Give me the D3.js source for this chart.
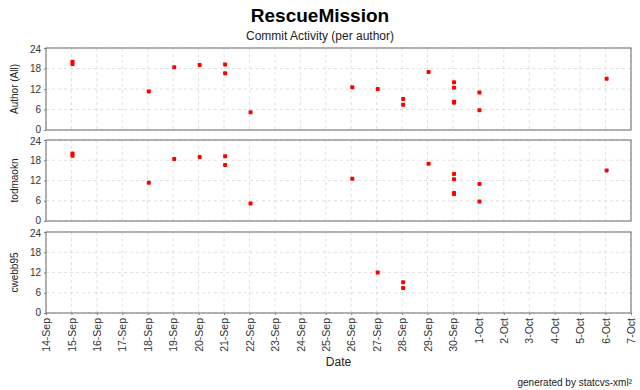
<!DOCTYPE html>
<html>
<head>
<meta charset="utf-8">
<script src="https://cdn.jsdelivr.net/npm/d3@7"></script>
<style>
body { margin: 0; background: #fff; }
svg text { font-family: "Liberation Sans", Arial, sans-serif; }
</style>
</head>
<body>
<div id="chart"></div>
<script>
// commit times per author: day + hour of day
var authors = ["Author (All)", "todmaokn", "cwebb95"];

var todDays = ["09-15", "09-15", "09-18", "09-19", "09-20", "09-21", "09-21", "09-22",
  "09-26", "09-29", "09-30", "09-30", "09-30", "09-30", "10-01", "10-01", "10-06"];
var todHours = [20.0, 19.3, 11.3, 18.35, 19.0, 19.2, 16.6, 5.2,
  12.5, 17.0, 13.95, 12.4, 8.3, 8.0, 11.0, 5.75, 15.0];

var cwebbDays = ["09-27", "09-28", "09-28"];
var cwebbHours = [12.0, 9.1, 7.4];

var allDays = todDays.concat(cwebbDays);
var allHours = todHours.concat(cwebbHours);

var yTicks = [0, 6, 12, 18, 24];

var width = 640, height = 390;
var margin = { left: 46, right: 9 };
var panels = [
  { top: 48, bottom: 130, days: allDays, hours: allHours },
  { top: 140, bottom: 221, days: todDays, hours: todHours },
  { top: 232, bottom: 313, days: cwebbDays, hours: cwebbHours }
];

var parse = d3.timeParse("%Y-%m-%d");
var toDate = function (d) { return d3.timeHour.offset(parse("2005-" + d), 1); };

var svg = d3.select("#chart").append("svg")
  .attr("width", width).attr("height", height);

var x = d3.scaleTime()
  .domain([parse("2005-09-14"), parse("2005-10-07")])
  .range([margin.left, width - margin.right]);

svg.append("text").attr("x", 320).attr("y", 22)
  .attr("text-anchor", "middle").attr("font-size", 19).attr("font-weight", "bold")
  .text("RescueMission");
svg.append("text").attr("x", 320).attr("y", 40)
  .attr("text-anchor", "middle").attr("font-size", 12).attr("fill", "#222")
  .text("Commit Activity (per author)");

var days = d3.timeDay.range(x.domain()[0], d3.timeDay.offset(x.domain()[1], 1));

panels.forEach(function (p, i) {
  var y = d3.scaleLinear().domain([0, 24]).range([p.bottom, p.top]);
  var g = svg.append("g");

  // grid
  g.selectAll(".vg").data(days).enter().append("line")
    .attr("x1", function (d) { return x(d); }).attr("x2", function (d) { return x(d); })
    .attr("y1", p.top).attr("y2", p.bottom)
    .attr("stroke", "#d8d8d8").attr("stroke-width", 0.8).attr("stroke-dasharray", "3,3");
  g.selectAll(".hg").data(yTicks).enter().append("line")
    .attr("x1", margin.left).attr("x2", width - margin.right)
    .attr("y1", function (d) { return y(d); }).attr("y2", function (d) { return y(d); })
    .attr("stroke", "#d8d8d8").attr("stroke-width", 0.8).attr("stroke-dasharray", "3,3");

  g.append("rect")
    .attr("x", margin.left).attr("y", p.top)
    .attr("width", width - margin.right - margin.left).attr("height", p.bottom - p.top)
    .attr("fill", "none").attr("stroke", "#808080").attr("stroke-width", 1.2);

  var ya = g.append("g").attr("transform", "translate(" + margin.left + ",0)")
    .call(d3.axisLeft(y).tickValues(yTicks).tickSize(2).tickPadding(3));
  ya.select(".domain").remove();
  ya.selectAll("line").attr("stroke", "#808080");
  ya.selectAll("text").attr("font-size", 10).attr("fill", "#333")
    .attr("font-family", "Liberation Sans, Arial, sans-serif")
    .attr("dy", function (d) { return d === 0 ? "0.2em" : (d === 24 ? "0.42em" : "0.32em"); });

  g.append("text")
    .attr("transform", "translate(18," + ((p.top + p.bottom) / 2) + ") rotate(-90)")
    .attr("text-anchor", "middle").attr("font-size", 10).attr("fill", "#222")
    .text(authors[i]);

  g.selectAll(".pt").data(p.days).enter().append("rect")
    .attr("x", function (d) { return x(toDate(d)) - 2; })
    .attr("y", function (d, j) { return y(p.hours[j]) - 2; })
    .attr("width", 4).attr("height", 4).attr("rx", 0.8)
    .attr("fill", "#ff0000");

  if (i === panels.length - 1) {
    var xa = g.append("g").attr("transform", "translate(0," + p.bottom + ")")
      .call(d3.axisBottom(x).ticks(d3.timeDay.every(1)).tickFormat(d3.timeFormat("%-d-%b")).tickSize(2));
    xa.select(".domain").remove();
    xa.selectAll("line").attr("stroke", "#808080");
    xa.selectAll("text").attr("font-size", 10.5).attr("fill", "#333")
      .attr("font-family", "Liberation Sans, Arial, sans-serif")
      .attr("transform", "rotate(-90)")
      .attr("text-anchor", "end").attr("x", -5).attr("y", 0).attr("dy", "0.35em");
  }
});

svg.append("text").attr("x", (margin.left + width - margin.right) / 2).attr("y", 366)
  .attr("text-anchor", "middle").attr("font-size", 12).attr("fill", "#222")
  .text("Date");

svg.append("text").attr("x", 632).attr("y", 386)
  .attr("text-anchor", "end").attr("font-size", 10).attr("fill", "#222")
  .text("generated by statcvs-xml\u00b2");
</script>
</body>
</html>
